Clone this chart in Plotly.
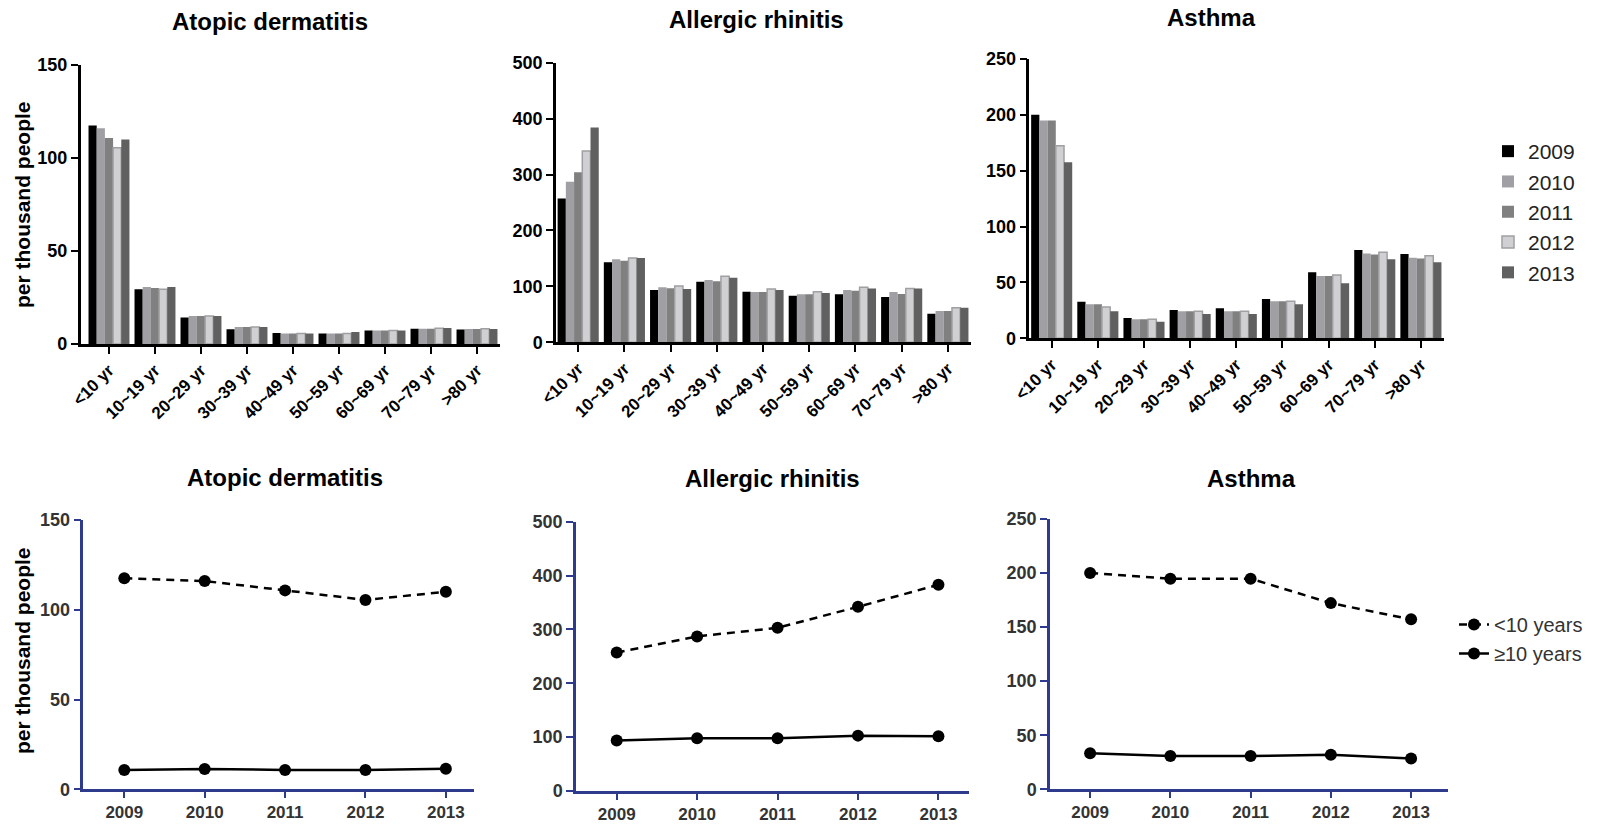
import plotly.graph_objects as go

W, H = 1608, 825

age_groups = ["<10 yr", "10~19 yr", "20~29 yr", "30~39 yr", "40~49 yr",
              "50~59 yr", "60~69 yr", "70~79 yr", ">80 yr"]
years = [2009, 2010, 2011, 2012, 2013]
year_labels = ["2009", "2010", "2011", "2012", "2013"]

# Atopic dermatitis, per thousand people, by age group (rows = years)
ad_2009 = [117.5, 29.4, 14.2, 7.9, 5.9, 5.7, 7.3, 8.2, 7.8]
ad_2010 = [116.0, 30.6, 15.0, 9.1, 5.6, 5.6, 7.2, 8.2, 8.0]
ad_2011 = [110.8, 30.1, 15.0, 9.1, 5.6, 5.6, 7.2, 8.2, 8.0]
ad_2012 = [105.5, 29.4, 15.0, 9.1, 5.6, 5.6, 7.2, 8.5, 8.2]
ad_2013 = [110.0, 30.6, 15.0, 9.1, 5.6, 6.5, 7.2, 8.6, 8.0]

# Allergic rhinitis
ar_2009 = [257, 143, 93.6, 108.5, 90.6, 83.4, 85.8, 81.0, 51]
ar_2010 = [287, 148.4, 98.3, 111.4, 90.0, 85.8, 93.6, 90.0, 56]
ar_2011 = [304, 146, 96.5, 109.0, 90.0, 85.8, 92.4, 86.4, 56]
ar_2012 = [342, 150.8, 100.7, 118.0, 95.4, 90.6, 98.3, 96.0, 62]
ar_2013 = [384, 150.8, 95.4, 115.6, 93.6, 88.2, 96.0, 96.0, 62]

# Asthma
as_2009 = [200, 32.8, 18.2, 25.4, 26.8, 35.2, 59.1, 79.0, 75.5]
as_2010 = [195, 30.4, 17.0, 24.2, 24.2, 33.1, 55.8, 75.8, 72.0]
as_2011 = [195, 30.4, 17.0, 24.2, 24.2, 33.1, 55.8, 74.9, 71.5]
as_2012 = [172.4, 28.0, 17.0, 24.2, 24.2, 33.1, 56.7, 77.0, 74.0]
as_2013 = [157.5, 24.2, 14.9, 21.8, 21.8, 30.4, 49.2, 70.7, 68.0]

# Trend by year: <10 years and >=10 years
ad_under10 = [117.5, 116.0, 110.8, 105.5, 110.0]
ad_over10 = [10.8, 11.3, 10.8, 10.8, 11.5]
ar_under10 = [257, 287, 303, 342, 383]
ar_over10 = [93.6, 97.9, 97.9, 102.8, 101.6]
as_under10 = [200, 194.8, 194.8, 172.2, 157.2]
as_over10 = [33.3, 30.8, 30.8, 32.0, 28.4]

diseases = ["Atopic dermatitis", "Allergic rhinitis", "Asthma"]
bar_data = [
    [ad_2009, ad_2010, ad_2011, ad_2012, ad_2013],
    [ar_2009, ar_2010, ar_2011, ar_2012, ar_2013],
    [as_2009, as_2010, as_2011, as_2012, as_2013],
]
line_data = [
    (ad_under10, ad_over10),
    (ar_under10, ar_over10),
    (as_under10, as_over10),
]
y_max = [150, 500, 250]
y_dtick = [50, 100, 50]

bar_colors = ["#000000", "#a0a0a4", "#808080", "#d0d0d2", "#606060"]
bar_line_colors = ["#000000", "#a0a0a4", "#808080", "#a0a0a4", "#606060"]
bar_line_widths = [0, 0, 0, 1.5, 0]

FONT = "Liberation Sans, Arial, sans-serif"
NAVY = "#2e3a8c"


def px_x(a, b):
    return [a / W, b / W]


def px_y(top, bottom):
    return [1 - bottom / H, 1 - top / H]


# plot area geometry (pixels)
top_boxes = [(80.7, 500, 65, 344), (556, 971, 62.7, 342.3), (1029.3, 1444, 59, 338.3)]
top_xranges = [[-0.615, 8.5], [-0.48, 8.5], [-0.485, 8.5]]
bot_boxes = [(83.3, 474, 520, 789.3), (576, 969, 521.7, 791.0), (1050, 1448, 519, 789.3)]
bot_xranges = [[2008.49, 2013.35], [2008.494, 2013.38], [2008.5, 2013.46]]

fig = go.Figure()
layout = {}

for i in range(3):
    xa = "x" if i == 0 else f"x{i+1}"
    ya = "y" if i == 0 else f"y{i+1}"
    for j, yr in enumerate(year_labels):
        fig.add_trace(go.Bar(
            x=age_groups, y=bar_data[i][j], name=yr,
            marker=dict(color=bar_colors[j],
                        line=dict(color=bar_line_colors[j], width=bar_line_widths[j])),
            xaxis=xa, yaxis=ya, legend="legend", legendgroup=yr,
            showlegend=(i == 0),
        ))
    x0, x1, y0, y1 = top_boxes[i]
    k = "" if i == 0 else str(i + 1)
    layout["xaxis" + k] = dict(
        domain=px_x(x0, x1), anchor=ya, type="category", automargin=False,
        categoryorder="array", categoryarray=age_groups,
        range=top_xranges[i], showline=True, linecolor="black", linewidth=2.5,
        ticks="outside", ticklen=7, tickwidth=2, tickcolor="black",
        tickangle=-45, showgrid=False, zeroline=False,
        tickfont=dict(family=FONT, size=17, color="black", weight="bold"),
    )
    layout["yaxis" + k] = dict(
        domain=px_y(y0, y1), anchor=xa, range=[0, y_max[i]], automargin=False,
        tick0=0, dtick=y_dtick[i], showline=True, linecolor="black", linewidth=2.5,
        ticks="outside", ticklen=7, tickwidth=2, tickcolor="black",
        showgrid=False, zeroline=False,
        tickfont=dict(family=FONT, size=18, color="black", weight="bold"),
    )

for i in range(3):
    n = i + 4
    xa, ya = f"x{n}", f"y{n}"
    under, over = line_data[i]
    fig.add_trace(go.Scatter(
        x=years, y=under, name="<10 years", mode="lines+markers",
        line=dict(color="black", width=2.5, dash="8px,6px"),
        marker=dict(color="black", size=12),
        xaxis=xa, yaxis=ya, legend="legend2", legendgroup="u10",
        showlegend=(i == 0),
    ))
    fig.add_trace(go.Scatter(
        x=years, y=over, name="≥10 years", mode="lines+markers",
        line=dict(color="black", width=2.5),
        marker=dict(color="black", size=12),
        xaxis=xa, yaxis=ya, legend="legend2", legendgroup="o10",
        showlegend=(i == 0),
    ))
    x0, x1, y0, y1 = bot_boxes[i]
    layout[f"xaxis{n}"] = dict(
        domain=px_x(x0, x1), anchor=ya, range=bot_xranges[i], automargin=False,
        tickvals=years, ticktext=year_labels,
        showline=True, linecolor=NAVY, linewidth=2.5,
        ticks="outside", ticklen=6, tickwidth=2, tickcolor=NAVY,
        showgrid=False, zeroline=False,
        tickfont=dict(family=FONT, size=17, color="#333333", weight="bold"),
    )
    layout[f"yaxis{n}"] = dict(
        domain=px_y(y0, y1), anchor=xa, range=[0, y_max[i]], automargin=False,
        tick0=0, dtick=y_dtick[i], showline=True, linecolor=NAVY, linewidth=2.5,
        ticks="outside", ticklen=7, tickwidth=2, tickcolor=NAVY,
        showgrid=False, zeroline=False,
        tickfont=dict(family=FONT, size=18, color="#333333", weight="bold"),
    )

annotations = []
top_title_pos = [(270, 21), (756, 19), (1211, 17)]
bot_title_pos = [(285, 478), (772, 479), (1251, 479)]
for i, name in enumerate(diseases):
    for (cx, cy) in (top_title_pos[i], bot_title_pos[i]):
        annotations.append(dict(
            text=f"<b>{name}</b>", x=cx / W, y=1 - cy / H, xref="paper", yref="paper",
            xanchor="center", yanchor="middle", showarrow=False,
            font=dict(family=FONT, size=24, color="black"),
        ))
for cy in (205, 651):
    annotations.append(dict(
        text="<b>per thousand people</b>", x=22 / W, y=1 - cy / H, xref="paper",
        yref="paper", xanchor="center", yanchor="middle", showarrow=False,
        textangle=-90, font=dict(family=FONT, size=21, color="black"),
    ))

fig.update_layout(
    template="none",
    width=W, height=H, margin=dict(l=0, r=0, t=0, b=0, autoexpand=False),
    paper_bgcolor="white", plot_bgcolor="white",
    barmode="group", bargap=0.11, bargroupgap=0.0,
    annotations=annotations,
    legend=dict(x=1488 / W, y=1 - 131 / H, xanchor="left", yanchor="top",
                font=dict(family=FONT, size=21, color="#222222"),
                bgcolor="rgba(0,0,0,0)", tracegroupgap=0),
    legend2=dict(x=1454 / W, y=1 - 605 / H, xanchor="left", yanchor="top",
                 font=dict(family=FONT, size=20, color="#333333"),
                 bgcolor="rgba(0,0,0,0)", tracegroupgap=0),
    **layout,
)

fig.write_html(
    "out.html",
    config={"displayModeBar": False},
    post_script="document.body.style.margin='0px';document.body.style.overflow='hidden';",
)
